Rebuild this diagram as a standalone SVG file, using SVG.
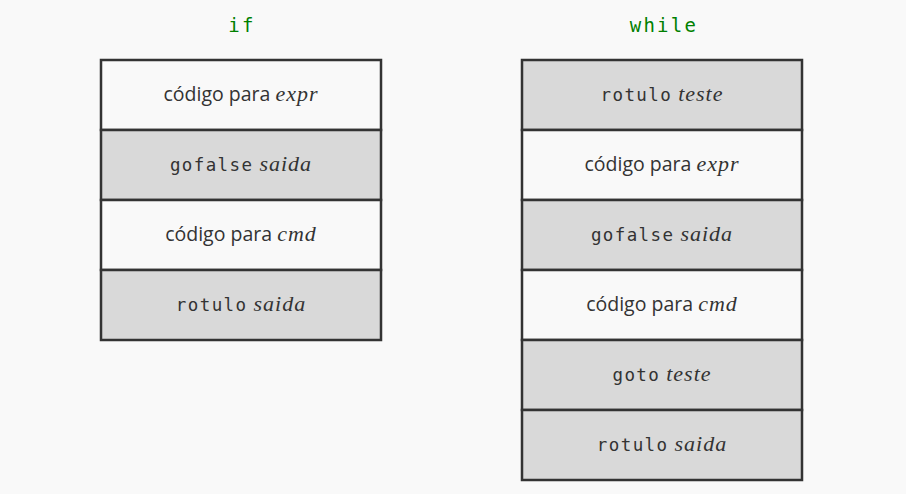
<svg xmlns="http://www.w3.org/2000/svg" width="906" height="494" viewBox="0 0 906 494">
<style>
.bg{fill:#f9f9f9}
.w{fill:#f9f9f9;stroke:#333;stroke-width:2.5}
.g{fill:#d9d9d9;stroke:#333;stroke-width:2.5}
text{text-anchor:middle;fill:#333;font-size:18px}
.s{font-family:"Open Sans",Lato,"Liberation Sans",sans-serif;font-size:19.5px}
.m{font-family:"DejaVu Sans Mono","Liberation Mono",monospace;font-size:17.5px;letter-spacing:1.4px}
.i{font-family:"Liberation Serif","DejaVu Serif",serif;font-style:italic;font-size:22px;letter-spacing:1px}
.t{font-family:"DejaVu Sans Mono","Liberation Mono",monospace;fill:#008000;font-size:19px;letter-spacing:2.3px}
</style>
<rect class="bg" x="0" y="0" width="906" height="494"/>
<text class="t" x="242" y="32">if</text>
<text class="t" x="664" y="32">while</text>
<g id="if-expr"><rect class="w" x="101" y="60" width="280" height="70"/><text x="241" y="101"><tspan class="s">código para </tspan><tspan class="i">expr</tspan></text></g>
<g id="if-gofalse"><rect class="g" x="101" y="130" width="280" height="70"/><text x="241" y="171"><tspan class="m">gofalse</tspan><tspan class="i" dx="6">saida</tspan></text></g>
<g id="if-cmd"><rect class="w" x="101" y="200" width="280" height="70"/><text x="241" y="241"><tspan class="s">código para </tspan><tspan class="i">cmd</tspan></text></g>
<g id="if-rotulo"><rect class="g" x="101" y="270" width="280" height="70"/><text x="241" y="311"><tspan class="m">rotulo</tspan><tspan class="i" dx="6">saida</tspan></text></g>
<g id="w-rotulo-teste"><rect class="g" x="522" y="60" width="280" height="70"/><text x="662" y="101"><tspan class="m">rotulo</tspan><tspan class="i" dx="6">teste</tspan></text></g>
<g id="w-expr"><rect class="w" x="522" y="130" width="280" height="70"/><text x="662" y="171"><tspan class="s">código para </tspan><tspan class="i">expr</tspan></text></g>
<g id="w-gofalse"><rect class="g" x="522" y="200" width="280" height="70"/><text x="662" y="241"><tspan class="m">gofalse</tspan><tspan class="i" dx="6">saida</tspan></text></g>
<g id="w-cmd"><rect class="w" x="522" y="270" width="280" height="70"/><text x="662" y="311"><tspan class="s">código para </tspan><tspan class="i">cmd</tspan></text></g>
<g id="w-goto"><rect class="g" x="522" y="340" width="280" height="70"/><text x="662" y="381"><tspan class="m">goto</tspan><tspan class="i" dx="6">teste</tspan></text></g>
<g id="w-rotulo-saida"><rect class="g" x="522" y="410" width="280" height="70"/><text x="662" y="451"><tspan class="m">rotulo</tspan><tspan class="i" dx="6">saida</tspan></text></g>
<g id="connectors"></g>
</svg>
